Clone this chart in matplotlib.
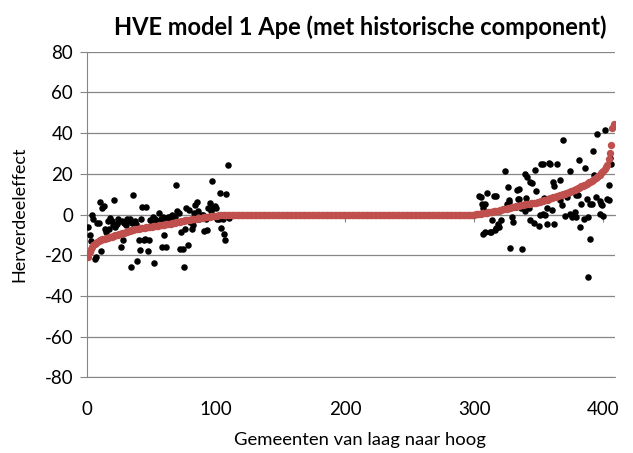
import matplotlib.pyplot as plt

plt.rcParams['font.family'] = ['Lato', 'DejaVu Sans']
plt.rcParams['axes.unicode_minus'] = False

# gesorteerd herverdeeleffect (rood), gemeente 1..408
red_low = [-21, -18.5, -17, -16, -15, -14.3, -13.8, -13.3, -13, -12.7,
           -12.4, -12.2, -12, -11.8, -11.6, -11.4, -11.2, -11, -10.8, -10.6,
           -10.4, -10.2, -10, -9.8, -9.6, -9.4, -9.2, -9, -8.8, -8.6,
           -8.4, -8.2, -8, -7.8, -7.6, -7.4, -7.2, -7.1, -7, -6.9,
           -6.8, -6.7, -6.6, -6.5, -6.4, -6.3, -6.2, -6.1, -6, -5.9,
           -5.8, -5.7, -5.6, -5.5, -5.4, -5.3, -5.2, -5.1, -5, -4.9,
           -4.8, -4.7, -4.6, -4.5, -4.4, -4.2, -4.1, -4, -3.8, -3.7,
           -3.6, -3.4, -3.3, -3.2, -3, -2.9, -2.8, -2.7, -2.6, -2.5,
           -2.4, -2.3, -2.2, -2.1, -2, -1.9, -1.8, -1.7, -1.6, -1.5,
           -1.4, -1.3, -1.2, -1.1, -1, -0.9, -0.8, -0.7, -0.6, -0.5,
           -0.45, -0.4, -0.35, -0.3, -0.25, -0.2, -0.15, -0.1, -0.05, 0]
red_mid = [0.0] * 189
red_high = [0, 0.1, 0.2, 0.3, 0.4, 0.5, 0.6, 0.7, 0.8, 0.9,
            1.0, 1.1, 1.2, 1.3, 1.4, 1.6, 1.7, 1.8, 1.9, 2.0,
            2.2, 2.3, 2.5, 2.6, 2.8, 2.9, 3.1, 3.2, 3.4, 3.5,
            3.7, 3.8, 4.0, 4.1, 4.3, 4.4, 4.6, 4.7, 4.8, 5.0,
            5.1, 5.2, 5.3, 5.4, 5.5, 5.6, 5.7, 5.8, 5.9, 6.0,
            6.2, 6.4, 6.6, 6.8, 7.0, 7.2, 7.4, 7.6, 7.8, 8.0,
            8.2, 8.4, 8.6, 8.8, 9.0, 9.2, 9.4, 9.6, 9.8, 10.0,
            10.2, 10.4, 10.7, 11.0, 11.2, 11.5, 11.8, 12.0, 12.3, 12.6,
            12.9, 13.2, 13.5, 13.8, 14.1, 14.4, 14.7, 15.0, 15.4, 15.8,
            16.2, 16.6, 17.0, 17.5, 18.0, 18.5, 19.0, 19.6, 20.2, 20.8,
            21.5, 22.3, 23.2, 24.5, 27.5, 30.0, 34.0, 42.5, 44.5]

# werkelijke waarden (zwart), lage groep
black_low_y = [-6, -10, -13, 0, -2, -22, -21, -4, -4, 6,
               -18, 3, 4, -7, -8.5, -3, -7, -1.5, -3, -5,
               7, -6, -4.4, -2, -3, -16, -3, -12.6, -4, -5,
               -2, -3, -2, -25.7, -4, 9.5, -3, -4.4, -23, -12.6,
               -17.5, -2, 3.7, -12.6, -11.8, 3.7, -18, -12.6, -2.8, -3,
               -1.2, -23.7, -2, -4, -3, 1, -2, -16, -1, -10,
               -16, -3, -1.2, -1, -2, 0, -3, -1.2, 14.4, 2,
               1, -16.7, -8.5, -16.7, -25.7, -6.9, 3.4, -15, 2.4, -3.6,
               -6.9, -5.2, 1, 4.6, 6.2, 2, -2, -1, 0, -0.3,
               -8, -2, -7.7, 3, 5.7, 2, 16.5, 3.4, 4, 3.4,
               -2, -2, 10.6, -6.4, -2, -9.3, -12.6, 10.3, 24.2, -1.6]
black_low_x = list(range(1, len(black_low_y) + 1))

# werkelijke waarden (zwart), hoge groep
black_high_x = [304, 305, 306, 307, 307, 308, 308, 310, 312, 313,
                314, 315, 316, 317, 317, 318, 319, 321, 324, 325,
                326, 327, 327, 328, 329, 330, 332, 333, 334, 335,
                335, 336, 337, 339, 339, 340, 341, 342, 343, 343,
                345, 346, 347, 348, 350, 351, 352, 353, 353, 354,
                355, 356, 356, 357, 358, 359, 360, 361, 362, 362,
                364, 366, 366, 368, 369, 370, 372, 374, 374, 376,
                378, 379, 379, 380, 381, 382, 383, 385, 386, 387,
                388, 388, 390, 390, 391, 392, 393, 394, 395, 396,
                397, 397, 398, 399, 400, 401, 403, 404, 404, 405, 406]
black_high_y = [9, 8.6, 5.4, 3, -9.7, 5.4, -8.5, 10.6, -8.5, -8.5,
                -2.8, 9, -7.7, 9, -6.4, -4.8, -6, -2.8, 21.4, 5.4,
                13.5, 6.2, 7, -16.2, -1.2, -3.6, 3.7, 12.3, 7.8, 12.4,
                7.8, 3, -16.7, 20, 2, 8.3, 18.4, 3, 16, -2.8,
                15.5, -4.1, 22, 11.6, -5.7, -0.3, 25, 0.5, 25, 8.3,
                -0.3, 3, -4.4, 7, 25.3, 25, 2.4, 16, 13.9, -4.8,
                25, 16.8, 7, 4.6, 36.8, -0.8, 8.6, 21.4, 0.5, -1.2,
                1.3, 9.5, -1.2, 9.5, 27, -6, 5.4, -2, 23, 7.8,
                -1.2, -30.6, -11.8, 5.4, 5, 31.2, 19.3, 8.6, 39.7, 19,
                6.7, 0.5, 5, 4.6, -0.8, 41.7, 7.8, 14.4, 7.3, 28, 25]

red_values = red_low + red_mid + red_high
red_x = list(range(1, len(red_values) + 1))

fig = plt.figure(figsize=(6.33, 4.53), dpi=100)
ax = fig.add_axes([0.1374, 0.1667, 0.8342, 0.7192])

grid_col = '#868686'
ax.scatter(black_low_x, black_low_y, s=22, color='black', linewidths=0, zorder=3)
ax.scatter(black_high_x, black_high_y, s=22, color='black', linewidths=0, zorder=3)
ax.scatter(red_x, red_values, s=28, color='#C0504D', linewidths=0, zorder=4)

ax.set_xlim(0, 409)
ax.set_ylim(-80, 80)
ax.set_yticks(range(-80, 81, 20))
ax.set_xticks(range(0, 401, 100))
ax.yaxis.grid(True, color=grid_col, linewidth=0.9)
ax.set_axisbelow(True)

for side in ['top', 'right']:
    ax.spines[side].set_visible(False)
ax.spines['left'].set_color(grid_col)
ax.spines['bottom'].set_color(grid_col)
ax.tick_params(axis='y', length=5, color=grid_col, labelsize=13.5, pad=5)
ax.tick_params(axis='x', length=0, labelsize=13.5, pad=17)

# horizontale as kruist bij y = 0
sec = ax.secondary_xaxis(0, transform=ax.transData)
sec.set_xticks(range(0, 401, 100))
sec.tick_params(length=5, color=grid_col, labelbottom=False)
sec.spines['bottom'].set_color(grid_col)

ax.set_xlabel('Gemeenten van laag naar hoog', fontsize=13.3, labelpad=10, x=0.517)
ax.set_ylabel('Herverdeeleffect', fontsize=13, labelpad=12)
ax.set_title('HVE model 1 Ape (met historische component)', fontsize=17,
             fontweight='bold', pad=12, x=0.517)

fig.savefig('out.png', dpi=100)
